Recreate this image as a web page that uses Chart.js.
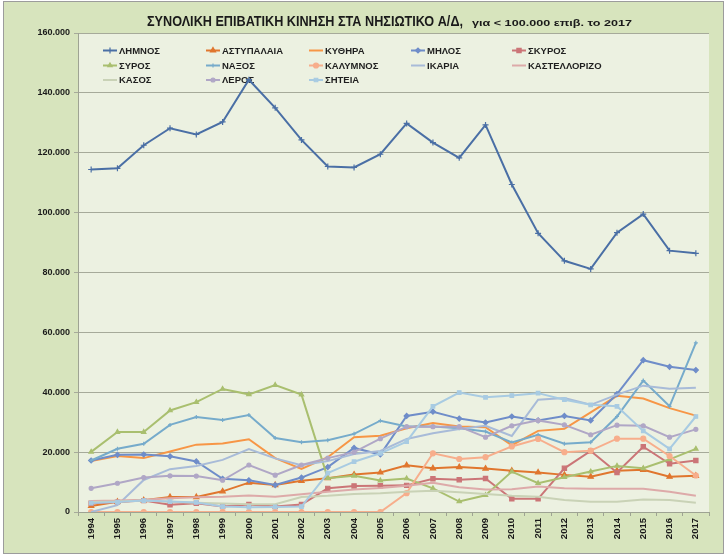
<!DOCTYPE html>
<html><head><meta charset="utf-8">
<script src="https://cdn.jsdelivr.net/npm/chart.js@4.4.1/dist/chart.umd.min.js"></script>
<style>html,body{margin:0;padding:0;background:#fff;}canvas{display:block;}</style>
</head><body>
<canvas id="c" width="727" height="556"></canvas>
<script>
const years = ['1994','1995','1996','1997','1998','1999','2000','2001','2002','2003','2004','2005','2006','2007','2008','2009','2010','2011','2012','2013','2014','2015','2016','2017'];
const yTicks = [0,20000,40000,60000,80000,100000,120000,140000,160000];
const seriesNames = ['ΛΗΜΝΟΣ','ΑΣΤΥΠΑΛΑΙΑ','ΚΥΘΗΡΑ','ΜΗΛΟΣ','ΣΚΥΡΟΣ','ΣΥΡΟΣ','ΝΑΞΟΣ','ΚΑΛΥΜΝΟΣ','ΙΚΑΡΙΑ','ΚΑΣΤΕΛΛΟΡΙΖΟ','ΚΑΣΟΣ','ΛΕΡΟΣ','ΣΗΤΕΙΑ'];
const limnos = [114400,114800,122500,128200,126100,130300,144400,135000,124300,115400,115100,119500,129800,123400,118300,129300,109400,93100,83900,81200,93300,99500,87300,86400];
const astypalaia = [2000,3400,3900,5000,5000,6900,9800,9000,10400,11300,12500,13200,15600,14600,15000,14500,13800,13200,12400,11800,13800,14100,11800,12100];
const kythira = [17000,18700,18000,20200,22500,22900,24300,18000,14400,18300,25000,25500,28000,29700,28600,28300,22300,27100,27800,33300,38800,37900,34700,32200];
const milos = [17200,19100,19200,18600,16900,11100,10600,9000,11500,15000,21400,19200,32100,33500,31200,29900,31900,30600,32100,30600,39400,50700,48500,47400];
const skyros = [2900,3300,3800,2400,2900,1800,2500,1800,2500,7900,8700,8800,8900,11100,10800,11200,4400,4400,14600,20400,13200,21800,16100,17200];
const syros = [20100,26700,26700,33900,36700,41100,39300,42400,39200,11300,12100,10500,11200,7900,3500,5600,13500,9600,11600,13500,15400,14600,17600,21100];
const naxos = [17200,21100,22800,29100,31700,30700,32400,24700,23300,24000,26100,30500,28600,28600,28000,26900,23200,25800,22800,23300,31900,43900,35300,56500];
const kalymnos = [0,0,0,0,0,0,0,0,0,0,0,0,6300,19600,17700,18300,21900,24400,20000,20500,24500,24500,18700,12200];
const ikaria = [0,2300,10700,14300,15400,17400,21000,17900,15600,17000,19400,20400,24400,26300,27700,28800,25400,37500,38100,35800,39200,42200,41200,41500];
const kastellorizo = [3700,3800,4100,4600,4900,5100,5500,5100,5900,6800,7500,8000,8800,9800,8300,7500,7600,8500,7900,7800,7800,7800,6800,5400];
const kasos = [3300,3500,3800,3400,3100,2800,2600,2600,5000,5400,6000,6300,6800,7100,6600,6000,5400,5100,4000,3400,3400,4200,4000,3100];
const leros = [7900,9600,11500,12100,12000,10600,15700,12300,15700,18000,20000,24500,28500,28500,28500,25000,28800,30600,29100,25800,29000,28800,25000,27600];
const sitia = [3000,3300,3800,3500,3200,1800,1600,1700,1800,13000,16800,19600,23500,35300,39900,38300,38900,39700,37500,35800,35300,27100,21100,31900];

const allValues = [limnos,astypalaia,kythira,milos,skyros,syros,naxos,kalymnos,ikaria,kastellorizo,kasos,leros,sitia];
const colors = ['#4a6fa5','#e0762e','#f79646','#6f8dc9','#cb7577','#a9bf6f','#76abcb','#f7ae8c','#a8bbd8','#ddaaa9','#c9d2b6','#b0a7c6','#a8cbe2'];
const pStyles = ['cross','triangle','circle','rectRot','rect','triangle','cross','circle','circle','circle','circle','circle','rect'];
const pRadius = [3,3,0,2.5,3,2.5,2,2.5,0,0,0,2,2.5];

const datasets = seriesNames.map((n,k)=>({
  label:n, data:allValues[k], borderColor:colors[k], backgroundColor:colors[k],
  borderWidth:2, pointStyle:pStyles[k], pointRadius:pRadius[k], pointBorderWidth:1.2,
  pointBackgroundColor:colors[k], pointBorderColor:colors[k], tension:0, order:-k, fill:false
}));

const frame = {
  id:'frame',
  beforeDraw(chart){
    const ctx=chart.ctx, a=chart.chartArea;
    ctx.save();
    ctx.fillStyle='#ffffff'; ctx.fillRect(0,0,chart.width,chart.height);
    ctx.fillStyle='#d7e4bd'; ctx.fillRect(3,1,721,553);
    ctx.strokeStyle='#9c9c9c'; ctx.lineWidth=1; ctx.strokeRect(3.5,1.5,720,552);
    ctx.fillStyle='#ecf1e1'; ctx.fillRect(a.left,a.top,a.right-a.left,a.bottom-a.top);
    ctx.restore();
  },
  beforeDatasetsDraw(chart){
    const ctx=chart.ctx;
    const colX=[103,206,309,411,512], rowY=[50.5,65.5,80];
    ctx.save();
    chart.data.datasets.forEach((ds,k)=>{
      const x0=colX[k%5], y=rowY[Math.floor(k/5)];
      ctx.strokeStyle=ds.borderColor; ctx.lineWidth=2;
      ctx.beginPath(); ctx.moveTo(x0,y); ctx.lineTo(x0+14,y); ctx.stroke();
      if(ds.pointRadius>0){
        ctx.fillStyle=ds.borderColor; ctx.strokeStyle=ds.borderColor; ctx.lineWidth=1.2;
        Chart.helpers.drawPoint(ctx,{pointStyle:ds.pointStyle,radius:ds.pointRadius,borderWidth:1.2,rotation:0},x0+7,y);
      }
      ctx.fillStyle='#1f1f1f'; ctx.font='bold 9.5px "Liberation Sans"';
      ctx.textBaseline='middle'; ctx.textAlign='left';
      ctx.fillText(ds.label,x0+16,y+0.5);
    });
    ctx.restore();
  },
  afterDraw(chart){
    const ctx=chart.ctx;
    ctx.save();
    ctx.fillStyle='#1a1a1a'; ctx.textBaseline='alphabetic'; ctx.textAlign='left';
    const main='ΣΥΝΟΛΙΚΗ ΕΠΙΒΑΤΙΚΗ ΚΙΝΗΣΗ ΣΤΑ ΝΗΣΙΩΤΙΚΟ Α/Δ,';
    ctx.font='bold 14px "Liberation Sans"';
    const w=ctx.measureText(main).width, target=316;
    ctx.save(); ctx.translate(147,26); ctx.scale(target/w,1); ctx.fillText(main,0,0); ctx.restore();
    const sub='για < 100.000 επιβ. το 2017';
    ctx.font='bold 9.5px "Liberation Sans"';
    const w2=ctx.measureText(sub).width, target2=160;
    ctx.save(); ctx.translate(472,26); ctx.scale(target2/w2,1); ctx.fillText(sub,0,0); ctx.restore();
    ctx.restore();
  }
};

new Chart(document.getElementById('c'),{
  type:'line',
  data:{labels:years,datasets},
  options:{
    responsive:false, animation:false, devicePixelRatio:1,
    layout:{padding:{left:0,top:33,right:18,bottom:0}},
    plugins:{legend:{display:false},tooltip:{enabled:false},title:{display:false}},
    scales:{
      x:{
        offset:true,
        grid:{display:true,offset:true,drawOnChartArea:false,drawTicks:true,tickLength:4,color:'#9ea393'},
        border:{display:true,color:'#9ea393'},
        ticks:{minRotation:90,maxRotation:90,autoSkip:false,padding:2,color:'#1a1a1a',font:{family:'Liberation Sans',size:9.5,weight:'bold'}},
        afterFit(s){ s.height=44; }
      },
      y:{
        min:0,max:160000,
        afterBuildTicks(s){ s.ticks=yTicks.map(v=>({value:v})); },
        grid:{color:'#a6aa9a',lineWidth:1,drawTicks:true,tickLength:4},
        border:{display:true,color:'#9ea393'},
        ticks:{padding:4,color:'#1a1a1a',font:{family:'Liberation Sans',size:9,weight:'bold'},
          callback:(v)=>String(v).replace(/\B(?=(\d{3})+(?!\d))/g,'.')},
        afterFit(s){ s.width=78; }
      }
    }
  },
  plugins:[frame]
});
</script>
</body></html>
